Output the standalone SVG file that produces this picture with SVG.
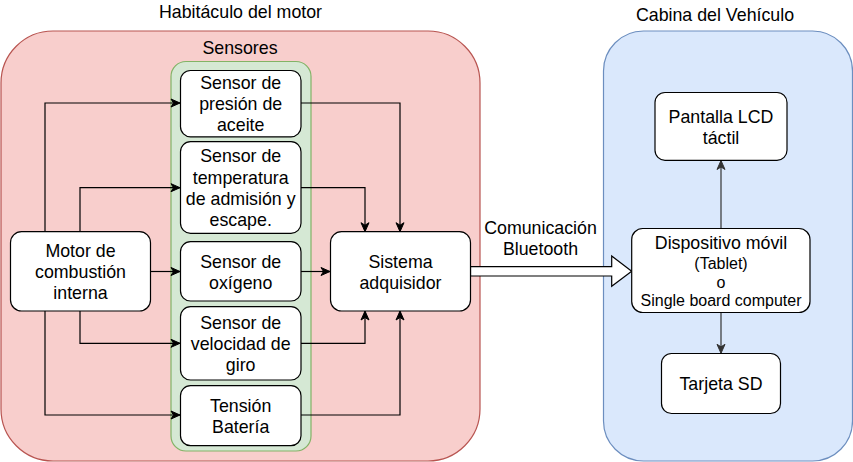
<svg xmlns="http://www.w3.org/2000/svg" width="853" height="462" viewBox="0 0 853 462">
<style>
text{font-family:"Liberation Sans",Arial,Helvetica,sans-serif;fill:#000;text-anchor:middle;font-size:17.8px}
.sm{font-size:16px}
.node{fill:#fff;stroke:#000;stroke-width:1.2}
.c{fill:none;stroke:#000;stroke-width:1.2}
.g{fill:none;stroke:#333;stroke-width:1.2}
</style>
<defs>
<marker id="ah" markerUnits="userSpaceOnUse" viewBox="-10 -5 11 10" refX="0" refY="0" markerWidth="11" markerHeight="10" orient="auto" overflow="visible">
<path d="M-9,-4 L0,0 L-9,4 L-6.5,0 Z" fill="#000" stroke="#000" stroke-width="1"/>
</marker>
<marker id="ahg" markerUnits="userSpaceOnUse" viewBox="-10 -5 11 10" refX="0" refY="0" markerWidth="11" markerHeight="10" orient="auto" overflow="visible">
<path d="M-9,-4 L0,0 L-9,4 L-6.5,0 Z" fill="#333" stroke="#333" stroke-width="1"/>
</marker>
</defs>

<g id="habitaculo">
<rect x="1" y="31" width="479" height="430" rx="52" fill="#f8cecc" stroke="#b85450" stroke-width="1.2"/>
<text x="240.5" y="18">Habitáculo del motor</text>
</g>
<g id="sensores">
<rect x="171" y="61.5" width="140" height="389.5" rx="15" fill="#d5e8d4" stroke="#82b366" stroke-width="1.2"/>
<text x="240" y="53.5">Sensores</text>
</g>
<g id="cabina">
<rect x="603.5" y="31" width="249" height="430" rx="40" fill="#dae8fc" stroke="#6c8ebf" stroke-width="1.2"/>
<text x="715" y="21">Cabina del Vehículo</text>
</g>

<g id="connectors">
<path class="c" d="M45,231.7 V103 H180" marker-end="url(#ah)"/>
<path class="c" d="M80,231.7 V187.7 H180" marker-end="url(#ah)"/>
<path class="c" d="M150.5,271.5 H180" marker-end="url(#ah)"/>
<path class="c" d="M80,311 V343.3 H180" marker-end="url(#ah)"/>
<path class="c" d="M45,311 V415 H180" marker-end="url(#ah)"/>
<path class="c" d="M301,103 H400 V231.7" marker-end="url(#ah)"/>
<path class="c" d="M301,187.7 H365 V231.7" marker-end="url(#ah)"/>
<path class="c" d="M301,271.5 H330" marker-end="url(#ah)"/>
<path class="c" d="M301,343.3 H365 V311" marker-end="url(#ah)"/>
<path class="c" d="M301,415 H400 V311" marker-end="url(#ah)"/>
<path class="g" d="M721,228.5 V160.5" marker-end="url(#ahg)"/>
<path class="g" d="M721,312.5 V353.3" marker-end="url(#ahg)"/>
<path d="M470.5,266.7 H611.7 V256 L631.7,271.3 L611.7,286.3 V276 H470.5 Z" fill="#fff" stroke="#000" stroke-width="1.2"/>
<text x="540.5" y="234">Comunicación</text>
<text x="540.5" y="255">Bluetooth</text>
</g>

<g id="motor">
<rect class="node" x="10.5" y="231.7" width="140" height="79.3" rx="11"/>
<text x="80.5" y="256.5">Motor de</text>
<text x="80.5" y="278">combustión</text>
<text x="80.5" y="299.3">interna</text>
</g>
<g id="sensor-presion">
<rect class="node" x="180.5" y="70.5" width="120.5" height="66.3" rx="10"/>
<text x="240.7" y="88.5">Sensor de</text>
<text x="240.7" y="110">presión de</text>
<text x="240.7" y="131.3">aceite</text>
</g>
<g id="sensor-temperatura">
<rect class="node" x="180.5" y="141.7" width="120.5" height="91.6" rx="10"/>
<text x="240.7" y="162">Sensor de</text>
<text x="240.7" y="183.5">temperatura</text>
<text x="240.7" y="204.8">de admisión y</text>
<text x="240.7" y="226.2">escape.</text>
</g>
<g id="sensor-oxigeno">
<rect class="node" x="180.5" y="241.7" width="120.5" height="59.3" rx="10"/>
<text x="240.7" y="267.5">Sensor de</text>
<text x="240.7" y="289">oxígeno</text>
</g>
<g id="sensor-velocidad">
<rect class="node" x="180.5" y="306.7" width="120.5" height="73.3" rx="10"/>
<text x="240.7" y="328.7">Sensor de</text>
<text x="240.7" y="350">velocidad de</text>
<text x="240.7" y="371.4">giro</text>
</g>
<g id="tension-bateria">
<rect class="node" x="180.5" y="385.7" width="120.5" height="60" rx="10"/>
<text x="240.7" y="411.8">Tensión</text>
<text x="240.7" y="433.2">Batería</text>
</g>
<g id="sistema">
<rect class="node" x="330.5" y="231.7" width="140" height="79.3" rx="11"/>
<text x="400.5" y="268">Sistema</text>
<text x="400.5" y="289.3">adquisidor</text>
</g>
<g id="pantalla">
<rect class="node" x="655" y="92.5" width="132" height="67.8" rx="10"/>
<text x="721" y="123">Pantalla LCD</text>
<text x="721" y="144">táctil</text>
</g>
<g id="dispositivo">
<rect class="node" x="631.7" y="228.5" width="178.3" height="84" rx="11"/>
<text x="721" y="249.3">Dispositivo móvil</text>
<text class="sm" x="721" y="268.5">(Tablet)</text>
<text class="sm" x="721" y="287.5">o</text>
<text class="sm" x="721" y="305.5">Single board computer</text>
</g>
<g id="tarjeta">
<rect class="node" x="661.5" y="353.5" width="119" height="60" rx="10"/>
<text x="721" y="390">Tarjeta SD</text>
</g>
</svg>
